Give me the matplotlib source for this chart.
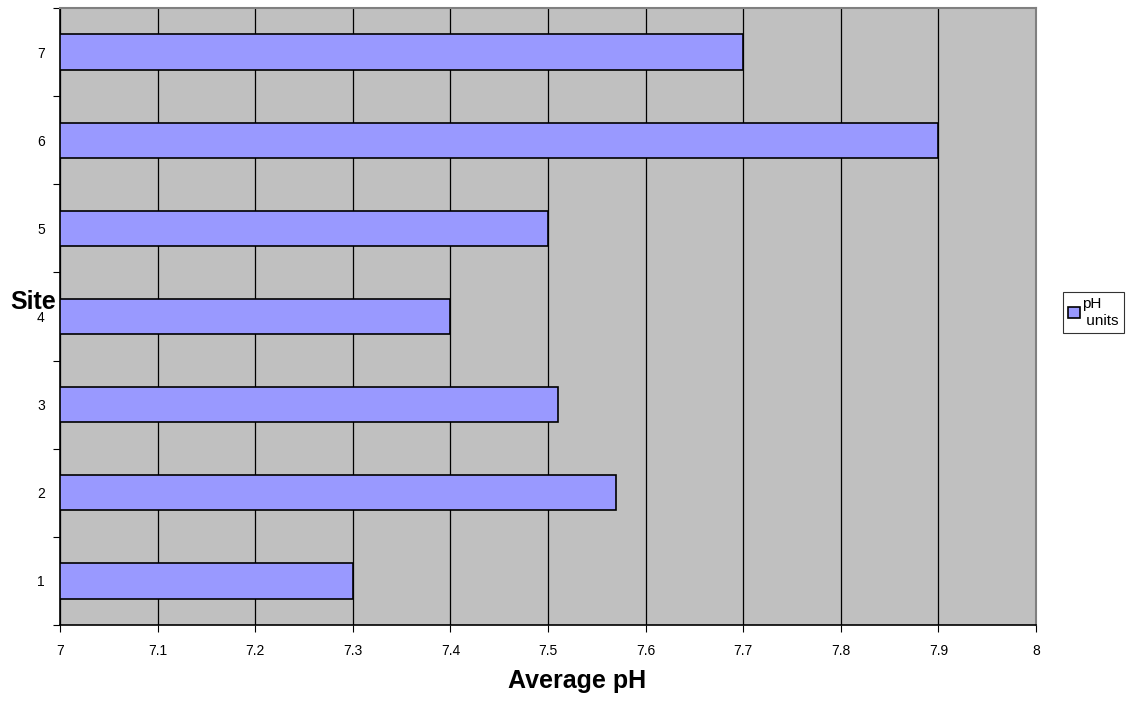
import matplotlib
matplotlib.use('Agg')
import matplotlib.pyplot as plt
import numpy as np

sites = ['1', '2', '3', '4', '5', '6', '7']
avg_ph = [7.3, 7.57, 7.51, 7.4, 7.5, 7.9, 7.7]
x_ticks = [7, 7.1, 7.2, 7.3, 7.4, 7.5, 7.6, 7.7, 7.8, 7.9, 8]
x_labels = ['7', '7.1', '7.2', '7.3', '7.4', '7.5', '7.6', '7.7', '7.8', '7.9', '8']

plt.rcParams['font.family'] = ['Liberation Sans', 'DejaVu Sans']

fig = plt.figure(figsize=(11.3, 7.03), dpi=100)
ax = fig.add_axes([60 / 1130, 78 / 703, 976 / 1130, 617 / 703])
ax.set_facecolor('#C0C0C0')

y = np.arange(1, len(sites) + 1)
ax.barh(y, np.array(avg_ph) - 7, left=7, height=0.4, color='#9999FF',
        edgecolor='black', linewidth=1.2, label='pH\n units', zorder=3)

ax.set_xlim(7, 8)
ax.set_ylim(0.5, 7.5)
ax.set_xticks(x_ticks)
ax.set_xticklabels(x_labels, fontsize=10)
ax.xaxis.grid(True, color='black', linewidth=0.9)
ax.set_axisbelow(True)

# tick marks sit between the categories, labels at the bar centres
ax.set_yticks(np.arange(0.5, 8, 1))
ax.set_yticklabels([])
ax.set_yticks(y, minor=True)
ax.set_yticklabels(sites, minor=True, fontsize=10)
ax.tick_params(axis='y', which='major', length=5, direction='out', color='black')
ax.tick_params(axis='y', which='minor', length=0, pad=11)
ax.tick_params(axis='x', length=5, direction='out', pad=9)

for side in ['top', 'right']:
    ax.spines[side].set_color('#808080')
    ax.spines[side].set_linewidth(1.5)
for side in ['left', 'bottom']:
    ax.spines[side].set_color('black')
    ax.spines[side].set_linewidth(1.2)

ax.set_xlabel('Average pH', fontsize=18, fontweight='bold', labelpad=8)
ax.xaxis.set_label_coords(0.53, -0.072)
fig.text(10 / 1130, 1 - 302 / 703, 'Site', fontsize=18, fontweight='bold',
         ha='left', va='center')

leg = ax.legend(loc='upper left', bbox_to_anchor=(1063 / 1130, 1 - 292 / 703),
                bbox_transform=fig.transFigure, fontsize=11,
                frameon=True, fancybox=False, handlelength=0.75, handleheight=0.75,
                handletextpad=0.15, borderpad=0.35, borderaxespad=0,
                labelspacing=0.2)
leg.get_frame().set_edgecolor('black')
leg.get_frame().set_linewidth(0.8)

fig.savefig('out.png', dpi=100)
